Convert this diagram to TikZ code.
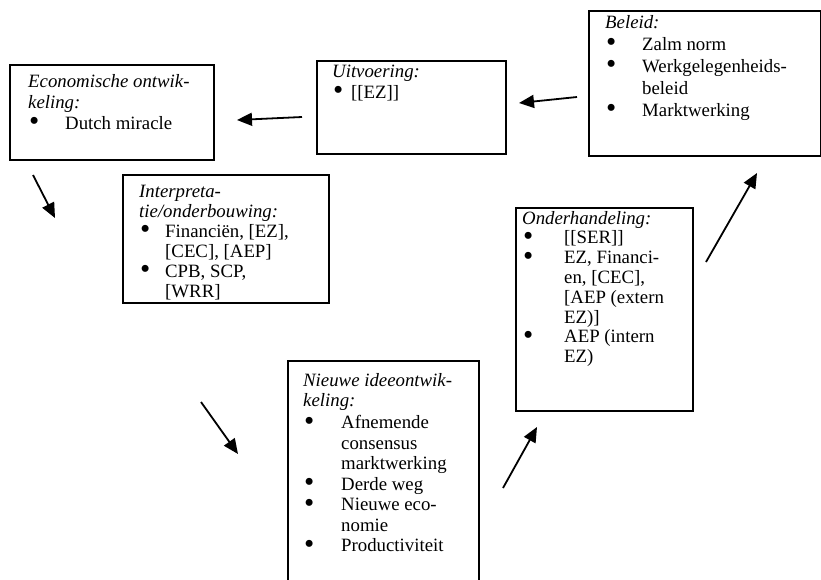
\documentclass[tikz,border=0pt]{standalone}
\usepackage{fontspec}
\setmainfont{Liberation Serif}
\usetikzlibrary{arrows.meta}

% text blocks: a stack of lines whose reference point is the first baseline
\newcommand\boxlines[2]{\vtop{\baselineskip=#1\lineskiplimit=-50pt\lineskip=0pt #2}}
\newcommand\boxhead[1]{\hbox{\itshape #1}}
\newcommand\bigdot{\smash{\raisebox{-1.6pt}{\scalebox{1.55}{\textbullet}}}}
\newcommand\boxitem[2]{\hbox{\makebox[#1][l]{\hspace{1pt}\bigdot}#2}}
\newcommand\boxcont[2]{\hbox{\hspace*{#1}#2}}

\begin{document}
\begin{tikzpicture}[x=1pt,y=-1pt,
  frame/.style={draw,line width=1.7pt,anchor=north west,inner sep=0pt},
  txt/.style={anchor=base west,inner sep=0pt,font=\fontsize{18.8}{20.3}\selectfont},
  flow/.style={line width=1.8pt,-{Triangle[length=15pt,width=13pt]}}]
\useasboundingbox (0,0) rectangle (821,579);
\clip (0,0) rectangle (821,579);

% frames
\node[frame,minimum width=204pt,minimum height=95pt] (eco) at (9,64) {};
\node[frame,minimum width=189pt,minimum height=93pt] (uit) at (316,60) {};
\node[frame,minimum width=232pt,minimum height=145pt] (bel) at (588,10) {};
\node[frame,minimum width=206pt,minimum height=128pt] (int) at (122,174) {};
\node[frame,minimum width=177pt,minimum height=203pt] (ond) at (515,207) {};
\node[frame,minimum width=191pt,minimum height=260pt] (nie) at (287,360) {};

% texts
\node[txt] (ecoT) at (28,87) {\boxlines{21pt}{%
  \boxhead{Economische ontwik-}\boxhead{keling:}%
  \boxitem{37pt}{Dutch miracle}}};
\node[txt] (uitT) at (332,77) {\boxlines{21pt}{%
  \boxhead{Uitvoering:}%
  \boxitem{18pt}{\hspace{1pt}[[EZ]]}}};
\node[txt] (belT) at (605,28) {\boxlines{22pt}{%
  \boxhead{Beleid:}%
  \boxitem{37pt}{Zalm norm}%
  \boxitem{37pt}{Werkgelegenheids-}\boxcont{37pt}{beleid}%
  \boxitem{37pt}{Marktwerking}}};
\node[txt] (intT) at (139,197) {\boxlines{20pt}{%
  \boxhead{Interpreta-}\boxhead{tie/onderbouwing:}%
  \boxitem{26pt}{Financiën, [EZ],}\boxcont{26pt}{[CEC], [AEP]}%
  \boxitem{26pt}{CPB, SCP,}\boxcont{26pt}{[WRR]}}};
\node[txt] (ondT) at (522,224) {\boxlines{19.8pt}{%
  \boxhead{Onderhandeling:}%
  \boxitem{42pt}{[[SER]]}%
  \boxitem{42pt}{EZ, Financi-}\boxcont{42pt}{en, [CEC],}%
  \boxcont{42pt}{[AEP (extern}\boxcont{42pt}{EZ)]}%
  \boxitem{42pt}{AEP (intern}\boxcont{42pt}{EZ)}}};
\node[txt] (nieT) at (303,386) {\boxlines{20.5pt}{%
  \boxhead{Nieuwe ideeontwik-}\boxhead{keling:}\vskip1.5pt
  \boxitem{38pt}{Afnemende}\boxcont{38pt}{consensus}\boxcont{38pt}{marktwerking}%
  \boxitem{38pt}{Derde weg}%
  \boxitem{38pt}{Nieuwe eco-}\boxcont{38pt}{nomie}%
  \boxitem{38pt}{Productiviteit}}};

% arrow ends
\coordinate (a1s) at (302,117); \coordinate (a1e) at (237,120);
\coordinate (a2s) at (577,97);  \coordinate (a2e) at (519,103);
\coordinate (a3s) at (33,175);  \coordinate (a3e) at (55,218);
\coordinate (a4s) at (201,402); \coordinate (a4e) at (238,454);
\coordinate (a5s) at (503,488); \coordinate (a5e) at (537,427);
\coordinate (a6s) at (706,262); \coordinate (a6e) at (757,173);

\draw[flow] (a2s) -- (a2e);
\draw[flow] (a1s) -- (a1e);
\draw[flow] (a3s) -- (a3e);
\draw[flow] (a4s) -- (a4e);
\draw[flow] (a5s) -- (a5e);
\draw[flow] (a6s) -- (a6e);
\end{tikzpicture}
\end{document}
